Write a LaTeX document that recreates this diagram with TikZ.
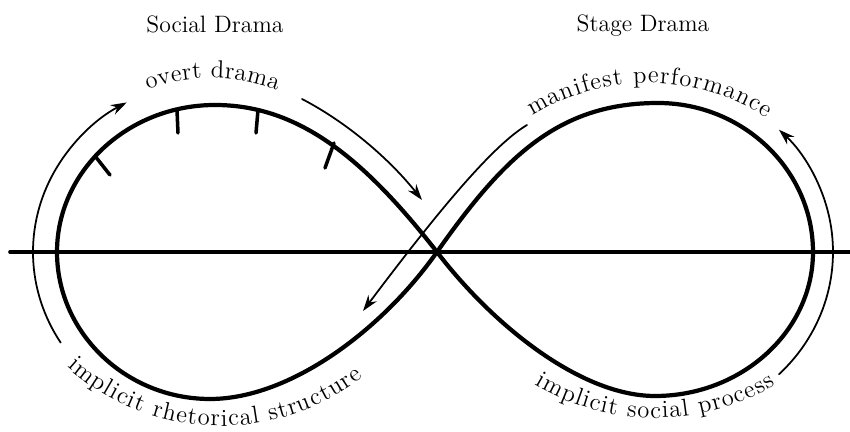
\documentclass[tikz,border=0pt]{standalone}
\usepackage{tikz}
\usetikzlibrary{arrows.meta, decorations.text}
\definecolor{ink}{HTML}{000000}
\newcommand{\labelfont}{\fontsize{14}{16}\selectfont}
\newcommand{\titlefont}{\fontsize{13.5}{16}\selectfont}
\tikzset{
  eightline/.style  = {draw=ink, line width=2.4pt, line cap=round, line join=round},
  axisline/.style   = {draw=ink, line width=2.1pt, line cap=round},
  guidearc/.style   = {draw=ink, line width=1pt, line cap=round},
  guidetip/.style   = {guidearc, -{Stealth[length=3.2mm, width=2.1mm]}},
  beat/.style       = {draw=ink, line width=2pt, line cap=round},
  dramatitle/.style = {font=\titlefont, text=ink, anchor=base, inner sep=0pt},
  arclabel/.style   = {decorate, decoration={text along path,
                       text align={fit to path}, text={|\labelfont|#1}}},
}

\begin{document}
\begin{tikzpicture}[x=0.02cm, y=0.02cm]
  \useasboundingbox[fill=white] (0,0) rectangle (850,432);

  % fixed points of the figure eight
  \coordinate (cross)  at (437,180);
  \coordinate (ltop)   at (215,327);
  \coordinate (lwest)  at (57,180);
  \coordinate (lsouth) at (210,33);
  \coordinate (rtop)   at (658,329);
  \coordinate (reast)  at (813,180);
  \coordinate (rsouth) at (655,36);
  \coordinate (axisW)  at (10,180);
  \coordinate (axisE)  at (850,180);

  \node[dramatitle] (social) at (215,399) {Social Drama};
  \node[dramatitle] (stage)  at (643,400) {Stage Drama};

  \draw[axisline] (axisW) -- (axisE);

  \draw[eightline] (cross) .. controls (365,272) and (300,327) .. (ltop)
    .. controls (128,327) and (57,261) .. (lwest)
    .. controls (57,99) and (126,33) .. (lsouth)
    .. controls (290,33) and (382,102) .. (cross)
    .. controls (505,277) and (560,329) .. (rtop)
    .. controls (743,329) and (813,262) .. (reast)
    .. controls (813,101) and (742,36) .. (rsouth)
    .. controls (580,36) and (492,108) .. (cross);

  % beats on the overt side
  \foreach \xa/\ya/\xb/\yb in {95/276/110/257, 177/322/178/299,
                               258/322/256/299, 334/289/325/264}
    \draw[beat] (\xa,\ya) -- (\xb,\yb);

  % guide arrows
  \draw[guidetip] (215,180) ++(212:182 and 171)
    arc[start angle=212, end angle=119, x radius=182, y radius=171];
  \draw[guidetip] (302,333) .. controls (350,308) and (392,270) .. (422,232);
  \draw[guidetip] (527,307) .. controls (490,285) and (430,210) .. (363,121);
  \draw[guidetip] (656,180) ++(-46:177 and 170)
    arc[start angle=-46, end angle=46, x radius=177, y radius=170];

  % curved labels
  \path[arclabel={overt drama}] (211,169) ++(110:185)
    arc[start angle=110, end angle=69, radius=185];
  \path[arclabel={manifest performance}] (648,131) ++(122:218)
    arc[start angle=122, end angle=57, radius=218];
  \path[arclabel={implicit rhetorical structure}] (221,236) ++(228:230)
    arc[start angle=228, end angle=308, radius=230];
  \path[arclabel={implicit social process}] (655,248) ++(239:234)
    arc[start angle=239, end angle=301, radius=234];
\end{tikzpicture}
\end{document}
